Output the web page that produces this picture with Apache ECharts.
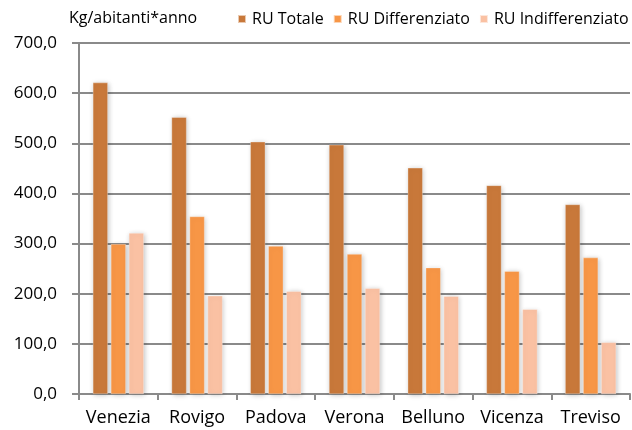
<!DOCTYPE html>
<html>
<head>
<meta charset="utf-8">
<script src="https://cdn.jsdelivr.net/npm/echarts@6/dist/echarts.min.js"></script>
<style>
  html, body { margin: 0; padding: 0; background: #fff; }
  #main { width: 632px; height: 430px; }
</style>
</head>
<body>
<div id="main"></div>
<script>
const categories = ['Venezia', 'Rovigo', 'Padova', 'Verona', 'Belluno', 'Vicenza', 'Treviso']
const ruTotale = [621, 552, 503, 497, 451, 416, 378]
const ruDifferenziato = [299, 354, 295, 279, 252, 245, 272]
const ruIndifferenziato = [321, 196, 205, 211, 195, 169, 103]
const seriesNames = ['RU Totale', 'RU Differenziato', 'RU Indifferenziato']
const colors = ['#C8783A', '#F79646', '#FAC1A3']

const font = '"Open Sans", sans-serif'
const gridColor = '#8a8a8a'

function barSeries(name, data, color) {
  return {
    name: name,
    type: 'bar',
    data: data,
    barWidth: 15,
    barGap: '20%',
    itemStyle: {
      color: color,
      borderColor: 'rgba(255,255,255,0.6)',
      borderWidth: 0.5,
      shadowBlur: 5,
      shadowColor: 'rgba(0,0,0,0.25)',
      shadowOffsetX: 1,
      shadowOffsetY: 1
    }
  }
}

const option = {
  animation: false,
  backgroundColor: '#fff',
  title: {
    text: 'Kg/abitanti*anno',
    left: 64,
    top: 5,
    textStyle: { fontFamily: font, fontSize: 16, fontWeight: 'normal', color: '#000' }
  },
  legend: {
    data: seriesNames,
    left: 237,
    top: 11,
    width: 395,
    padding: 0,
    itemWidth: 8,
    itemHeight: 8,
    itemGap: 9,
    icon: 'rect',
    textStyle: { fontFamily: font, fontSize: 16, color: '#000', padding: [0, 0, 0, 1] }
  },
  grid: { left: 79, right: 2, top: 43, bottom: 36 },
  xAxis: {
    type: 'category',
    data: categories,
    axisLine: { lineStyle: { color: gridColor, width: 2 } },
    axisTick: { show: true, length: 6, lineStyle: { color: gridColor, width: 2 } },
    axisLabel: { fontFamily: font, fontSize: 18, color: '#000', margin: 15, interval: 0 }
  },
  yAxis: {
    type: 'value',
    min: 0,
    max: 700,
    interval: 100,
    axisLine: { show: true, lineStyle: { color: gridColor, width: 2 } },
    axisTick: { show: true, length: 7, lineStyle: { color: gridColor, width: 2 } },
    splitLine: { lineStyle: { color: gridColor, width: 2 } },
    axisLabel: {
      fontFamily: font,
      fontSize: 17,
      color: '#000',
      margin: 22,
      formatter: function (v) { return v.toFixed(1).replace('.', ',') }
    }
  },
  series: [
    barSeries(seriesNames[0], ruTotale, colors[0]),
    barSeries(seriesNames[1], ruDifferenziato, colors[1]),
    barSeries(seriesNames[2], ruIndifferenziato, colors[2])
  ]
}

const chart = echarts.init(document.getElementById('main'))
chart.setOption(option)
</script>
</body>
</html>
